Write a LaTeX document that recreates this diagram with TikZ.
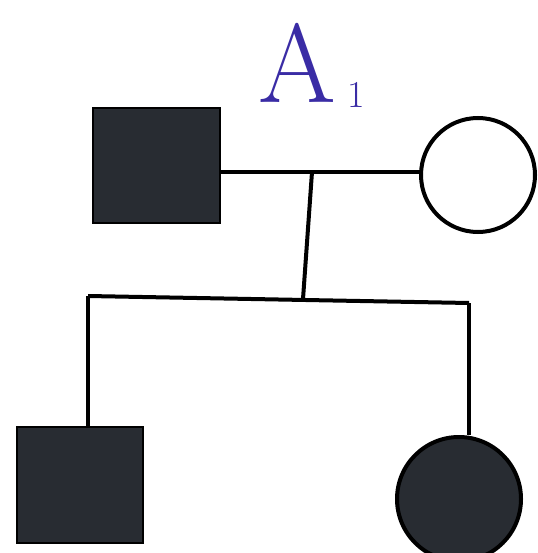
\documentclass[tikz,border=0pt]{standalone}
\usepackage{fontspec}
\definecolor{aff}{RGB}{40,44,50}
\definecolor{ink}{RGB}{58,44,165}
\tikzset{
  line/.style={line width=4pt, black},
  male/.style={rectangle, draw=black, line width=2pt, fill=aff, inner sep=0pt},
  female/.style={circle, draw=black, line width=4pt, inner sep=0pt},
  hand/.style={text=ink, inner sep=0pt}
}
\begin{document}
\begin{tikzpicture}[x=1pt,y=-1pt]
\useasboundingbox (0,0) rectangle (537,553);
\node[hand, font=\fontsize{112}{112}\selectfont] (lbl) at (297,63) {A};
\node[hand, font=\fontsize{38}{38}\selectfont] (sub) at (356,95) {1};
\node[male, minimum width=127pt, minimum height=115pt] (father) at (156.5,165.5) {};
\node[female, fill=white, minimum size=114pt] (mother) at (478,175) {};
\node[male, minimum width=126pt, minimum height=116pt] (son) at (80,485) {};
\node[female, fill=aff, minimum size=124pt] (daughter) at (459,499) {};
\coordinate (m1) at (312,172);
\coordinate (s) at (303,299);
\coordinate (sl) at (88,296);
\coordinate (sr) at (469,303);
\draw[line] (father.east |- m1) -- (mother.west |- m1);
\draw[line] (m1) -- (s);
\draw[line] (sl) -- (sr);
\draw[line] (sl) -- (sl |- son.north);
\draw[line] (sr) -- (sr |- daughter.north);
\end{tikzpicture}
\end{document}
